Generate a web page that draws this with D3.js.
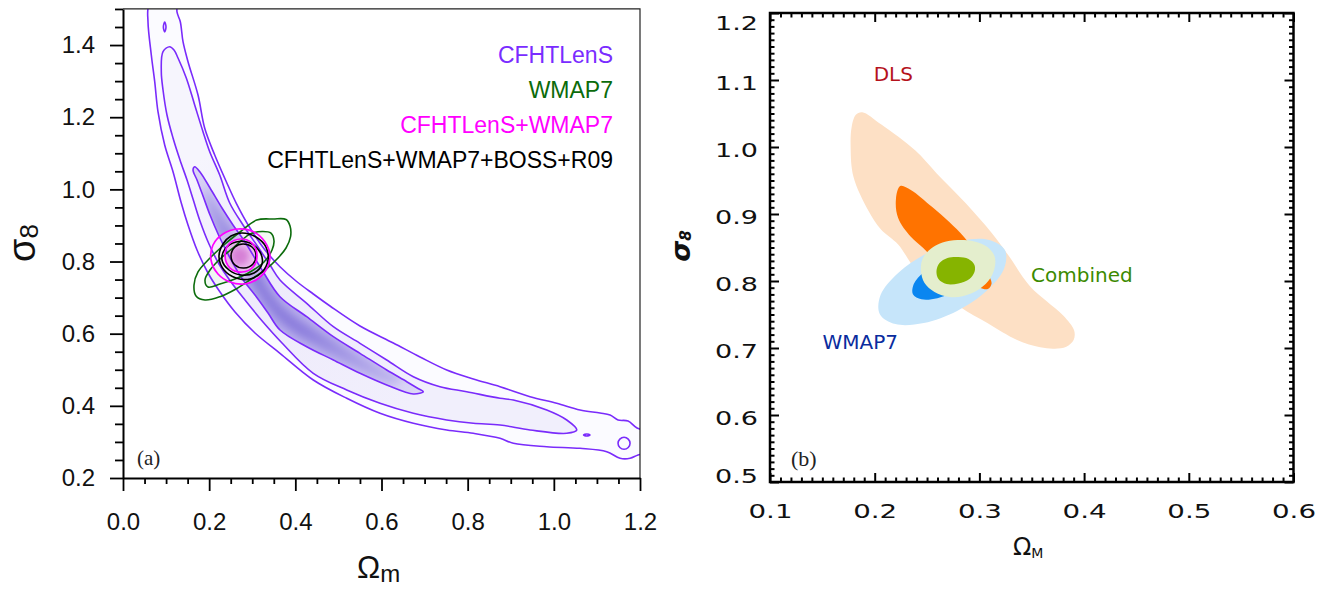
<!DOCTYPE html>
<html><head><meta charset="utf-8">
<script src="https://cdn.jsdelivr.net/npm/d3@7"></script>
<style>html,body{margin:0;padding:0;background:#fff;}svg{display:block;}</style>
</head><body>
<svg id="chart" width="1322" height="590"></svg>
<script>
// ================= Panel (a) data =================
const aXTicks = [0.0, 0.2, 0.4, 0.6, 0.8, 1.0, 1.2];
const aYTicks = [0.2, 0.4, 0.6, 0.8, 1.0, 1.2, 1.4];
const aLegend = ["CFHTLenS", "WMAP7", "CFHTLenS+WMAP7", "CFHTLenS+WMAP7+BOSS+R09"];

const cfhtOuter = [[0.0975,1.5525],[0.1253,1.5525],[0.1253,1.4916],[0.1330,1.4647],[0.1393,1.4093],[0.1509,1.3538],[0.1741,1.2615],[0.1897,1.1692],[0.2129,1.0952],[0.2398,1.0212],[0.2630,0.9614],[0.2948,0.8929],[0.3296,0.8319],[0.3644,0.7856],[0.4016,0.7460],[0.4417,0.7100],[0.4805,0.6767],[0.5501,0.6213],[0.6274,0.5742],[0.6894,0.5354],[0.7514,0.4993],[0.8131,0.4744],[0.8751,0.4531],[0.9448,0.4253],[1.0067,0.4070],[1.0608,0.3885],[1.1072,0.3802],[1.1305,0.3746],[1.1490,0.3608],[1.1722,0.3580],[1.1931,0.3386],[1.2349,0.3220],[1.2349,0.2776],[1.1955,0.2637],[1.1769,0.2546],[1.1537,0.2546],[1.1228,0.2729],[1.0608,0.2823],[0.9835,0.2868],[0.9060,0.2962],[0.8751,0.3100],[0.8131,0.3239],[0.7514,0.3330],[0.6739,0.3516],[0.5966,0.3793],[0.5193,0.4209],[0.4417,0.4716],[0.3644,0.5456],[0.3064,0.6019],[0.2600,0.6601],[0.2252,0.7155],[0.1973,0.7682],[0.1718,0.8319],[0.1509,0.9012],[0.1346,0.9650],[0.1161,1.0489],[0.0968,1.1229],[0.0812,1.2152],[0.0736,1.2984],[0.0657,1.3724],[0.0580,1.4647],[0.0604,1.5110]];
const cfhtMiddle = [[0.1084,1.3954],[0.1184,1.3863],[0.1277,1.3641],[0.1469,1.3087],[0.1664,1.2339],[0.1857,1.1598],[0.2013,1.1044],[0.2245,1.0398],[0.2477,0.9622],[0.2786,0.9012],[0.3134,0.8402],[0.3412,0.7904],[0.3644,0.7488],[0.4264,0.6842],[0.4882,0.6193],[0.5501,0.5733],[0.6121,0.5271],[0.6739,0.4808],[0.7358,0.4531],[0.7978,0.4392],[0.8751,0.4209],[0.9060,0.4162],[0.9835,0.3885],[1.0300,0.3608],[1.0532,0.3330],[1.0300,0.3239],[0.9448,0.3330],[0.8751,0.3469],[0.8131,0.3516],[0.7514,0.3608],[0.6739,0.3793],[0.5966,0.4070],[0.5193,0.4439],[0.4417,0.4902],[0.3691,0.5742],[0.3250,0.6324],[0.2832,0.6933],[0.2507,0.7432],[0.2228,0.7931],[0.1996,0.8485],[0.1787,0.9123],[0.1625,0.9733],[0.1486,1.0259],[0.1323,1.0814],[0.1161,1.1424],[0.1021,1.2061],[0.0929,1.2754],[0.0889,1.3261],[0.0929,1.3815]];
const cfhtInner = [[0.1664,1.0628],[0.1787,1.0481],[0.2020,1.0038],[0.2298,0.9483],[0.2553,0.9012],[0.2832,0.8541],[0.3227,0.7765],[0.3644,0.7025],[0.4264,0.6471],[0.4882,0.5916],[0.5501,0.5456],[0.6121,0.4993],[0.6586,0.4669],[0.6848,0.4481],[0.6971,0.4392],[0.6739,0.4328],[0.6121,0.4578],[0.5501,0.4902],[0.4882,0.5271],[0.4264,0.5639],[0.3644,0.6102],[0.3366,0.6573],[0.3064,0.7072],[0.2739,0.7571],[0.2461,0.8153],[0.2228,0.8707],[0.2020,0.9289],[0.1857,0.9816],[0.1718,1.0259],[0.1625,1.0537]];
const cfhtCore = [[0.1903,1.0038],[0.2437,0.9095],[0.2948,0.8098],[0.3644,0.6823],[0.4875,0.5825],[0.6105,0.4966],[0.6430,0.4772],[0.6314,0.4605],[0.6105,0.4661],[0.4875,0.5381],[0.3644,0.6324],[0.2948,0.7488],[0.2437,0.8319],[0.1950,0.9428]];
const cfhtIslands = [
  [[0.0968,1.4639],[0.0998,1.4500],[0.0968,1.4362],[0.0937,1.4500]],
  [[1.0689,0.3192],[1.0763,0.3220],[1.0840,0.3192],[1.0763,0.3164]],
  [[1.1630,0.3128],[1.1727,0.3078],[1.1769,0.2962],[1.1727,0.2845],[1.1630,0.2795],[1.1532,0.2845],[1.1490,0.2962],[1.1532,0.3078]]
];
const wmapOuterA = [[0.3104,0.9151],[0.3489,0.9178],[0.3784,0.9165],[0.3877,0.8984],[0.3888,0.8680],[0.3784,0.8375],[0.3598,0.8098],[0.3296,0.7765],[0.2948,0.7488],[0.2623,0.7238],[0.2252,0.7025],[0.1903,0.6933],[0.1695,0.7044],[0.1648,0.7349],[0.1741,0.7710],[0.2020,0.8098],[0.2368,0.8486],[0.2716,0.8818]];
const wmapInnerA = [[0.2948,0.8763],[0.3227,0.8832],[0.3435,0.8790],[0.3505,0.8569],[0.3459,0.8319],[0.3273,0.7987],[0.2948,0.7709],[0.2600,0.7515],[0.2252,0.7377],[0.1973,0.7294],[0.1903,0.7488],[0.2020,0.7765],[0.2252,0.8070],[0.2553,0.8375],[0.2762,0.8596]];
const cwOuter = [[0.2669,0.8901],[0.3041,0.8818],[0.3296,0.8541],[0.3412,0.8153],[0.3319,0.7765],[0.3087,0.7488],[0.2809,0.7377],[0.2484,0.7432],[0.2205,0.7654],[0.2043,0.8042],[0.2089,0.8458],[0.2321,0.8763]];
const cwInner = [[0.2739,0.8624],[0.2994,0.8513],[0.3110,0.8181],[0.3018,0.7848],[0.2762,0.7709],[0.2484,0.7820],[0.2368,0.8153],[0.2461,0.8486]];
const cwCore = [[0.2716,0.8402],[0.2878,0.8319],[0.2925,0.8125],[0.2832,0.7931],[0.2669,0.7903],[0.2530,0.8014],[0.2507,0.8236],[0.2600,0.8375]];
const allOuter = [[0.2762,0.8790],[0.3087,0.8680],[0.3319,0.8402],[0.3366,0.8042],[0.3227,0.7709],[0.2948,0.7515],[0.2623,0.7543],[0.2345,0.7765],[0.2228,0.8125],[0.2321,0.8486],[0.2507,0.8707]];
const allMid = [[0.2623,0.8541],[0.2948,0.8513],[0.3180,0.8264],[0.3227,0.7931],[0.3041,0.7682],[0.2739,0.7626],[0.2461,0.7765],[0.2298,0.8042],[0.2368,0.8347]];
const allInner = [[0.2786,0.8486],[0.2994,0.8402],[0.3087,0.8181],[0.3018,0.7931],[0.2809,0.7820],[0.2600,0.7903],[0.2507,0.8153],[0.2600,0.8402]];

// ================= Panel (b) data =================
const bXTicks = [0.1, 0.2, 0.3, 0.4, 0.5, 0.6];
const bYTicks = [0.5, 0.6, 0.7, 0.8, 0.9, 1.0, 1.1, 1.2];
const bLabelText = ["DLS", "Combined", "WMAP7"];
const bLabelX = [0.199, 0.3493, 0.1502];
const bLabelY = [1.099, 0.7985, 0.6985];

const dlsOuter = [[0.188,1.052],[0.206,1.034],[0.2386,0.995],[0.259,0.961],[0.287,0.916],[0.3116,0.872],[0.3278,0.838],[0.3479,0.793],[0.364,0.770],[0.3803,0.748],[0.3905,0.726],[0.390,0.712],[0.383,0.702],[0.372,0.699],[0.358,0.701],[0.336,0.712],[0.308,0.737],[0.282,0.761],[0.262,0.785],[0.240,0.815],[0.2224,0.8546],[0.206,0.877],[0.194,0.905],[0.1797,0.9557],[0.177,1.0],[0.178,1.03],[0.182,1.048]];
const dlsInner = [[0.2244,0.9418],[0.2345,0.936],[0.2547,0.9107],[0.271,0.8884],[0.2851,0.866],[0.298,0.840],[0.308,0.812],[0.3116,0.7958],[0.308,0.788],[0.300,0.790],[0.285,0.800],[0.265,0.820],[0.2466,0.849],[0.2345,0.866],[0.2224,0.894],[0.2203,0.9224]];
const wmapOuterB = [[0.3244,0.8461],[0.3235,0.8181],[0.3067,0.7849],[0.2787,0.7552],[0.2469,0.7372],[0.2198,0.7357],[0.2048,0.7509],[0.2056,0.7790],[0.2224,0.8121],[0.2504,0.8418],[0.2822,0.8599],[0.3094,0.8613]];
const wmapInnerB = [[0.3045,0.8346],[0.3037,0.8196],[0.2939,0.8015],[0.2778,0.7849],[0.2599,0.7743],[0.2447,0.7727],[0.2365,0.7803],[0.2373,0.7954],[0.2471,0.8134],[0.2631,0.8300],[0.2811,0.8406],[0.2963,0.8422]];
const combOuterB = [[0.2791,0.8612],[0.2953,0.8590],[0.3077,0.8507],[0.3144,0.8373],[0.3149,0.8224],[0.3106,0.8045],[0.3001,0.7881],[0.2848,0.7776],[0.2714,0.7761],[0.2571,0.7836],[0.2476,0.7970],[0.2442,0.8149],[0.2457,0.8328],[0.2533,0.8478],[0.2648,0.8575]];
const combInnerB = [[0.2800,0.8358],[0.2896,0.8328],[0.2953,0.8239],[0.2953,0.8134],[0.2905,0.8030],[0.2800,0.7963],[0.2686,0.7955],[0.2609,0.8030],[0.2590,0.8149],[0.2619,0.8269],[0.2695,0.8343]];

// ================= Drawing =================
const svg = d3.select("#chart");
const defs = svg.append("defs");
const SANS = "'Liberation Sans', Arial, Helvetica, sans-serif";
const SERIF = "'Liberation Serif', 'Times New Roman', serif";
const GEO = "'DejaVu Sans', Verdana, sans-serif";

// ---------- Panel (a) ----------
const ax = d3.scaleLinear().domain([0, 1.2]).range([123, 640]);
const ay = d3.scaleLinear().domain([0.2, 1.5]).range([478, 8.96]);
const lineA = d3.line().x(d => ax(d[0])).y(d => ay(d[1])).curve(d3.curveCatmullRomClosed.alpha(0.5));

defs.append("clipPath").attr("id", "clipA").append("rect")
  .attr("x", ax(0)).attr("y", ay(1.5)).attr("width", ax(1.2) - ax(0)).attr("height", ay(0.2) - ay(1.5));
defs.append("clipPath").attr("id", "clipInner").append("path").attr("d", lineA(cfhtInner));
const blur = defs.append("filter").attr("id", "blur").attr("x", "-30%").attr("y", "-30%").attr("width", "160%").attr("height", "160%");
blur.append("feGaussianBlur").attr("stdDeviation", 5);
const blurS = defs.append("filter").attr("id", "blurS").attr("x", "-50%").attr("y", "-50%").attr("width", "200%").attr("height", "200%");
blurS.append("feGaussianBlur").attr("stdDeviation", 3);

function grad(id, stops) {
  const g = defs.append("linearGradient").attr("id", id).attr("gradientUnits", "userSpaceOnUse")
    .attr("x1", ax(0.16)).attr("y1", ay(1.06)).attr("x2", ax(0.70)).attr("y2", ay(0.44));
  stops.forEach(s => g.append("stop").attr("offset", s[0]).attr("stop-color", s[1]));
}
grad("gMid", [[0, "#f6f5fd"], [0.4, "#eeebfb"], [1, "#f1effc"]]);
grad("gInner", [[0, "#dcd6f5"], [0.4, "#b2a7ea"], [0.7, "#c1b8ee"], [1, "#ddd8f6"]]);
grad("gCore", [[0, "#c4bbef"], [0.35, "#8374da"], [0.6, "#8c7edd"], [1, "#c6bef0"]]);

const gA = svg.append("g").attr("clip-path", "url(#clipA)");
gA.append("path").attr("d", lineA(cfhtOuter)).attr("fill", "#fbfbff");
gA.append("path").attr("d", lineA(cfhtMiddle)).attr("fill", "url(#gMid)");
gA.append("path").attr("d", lineA(cfhtInner)).attr("fill", "url(#gInner)");
gA.append("g").attr("clip-path", "url(#clipInner)")
  .append("path").attr("d", lineA(cfhtCore)).attr("fill", "url(#gCore)").attr("filter", "url(#blur)");
gA.append("path").attr("d", lineA(wmapInnerA)).attr("fill", "#d9f2d9").attr("opacity", 0.35);
gA.append("path").attr("d", lineA(cwOuter)).attr("fill", "#ffe4ff").attr("opacity", 0.45);
gA.append("path").attr("d", lineA(cwInner)).attr("fill", "#eebcee").attr("opacity", 0.9);
gA.append("path").attr("d", lineA(cwCore)).attr("fill", "#d680d6").attr("filter", "url(#blurS)");

const purple = "#7a2bfb";
[cfhtOuter, cfhtMiddle, cfhtInner].concat(cfhtIslands).forEach(c =>
  gA.append("path").attr("d", lineA(c)).attr("fill", "none").attr("stroke", purple).attr("stroke-width", 1.6));
[wmapOuterA, wmapInnerA].forEach(c =>
  gA.append("path").attr("d", lineA(c)).attr("fill", "none").attr("stroke", "#0c6c0c").attr("stroke-width", 1.6));
[allOuter, allMid, allInner].forEach(c =>
  gA.append("path").attr("d", lineA(c)).attr("fill", "none").attr("stroke", "#000").attr("stroke-width", 1.6));
[cwOuter, cwInner].forEach(c =>
  gA.append("path").attr("d", lineA(c)).attr("fill", "none").attr("stroke", "#ff00ff").attr("stroke-width", 1.7));

svg.append("path").attr("d", `M${ax(0)},${ay(1.5)}H${ax(1.2)}V${ay(0.2)}`)
  .attr("fill", "none").attr("stroke", "#222").attr("stroke-width", 1.2);

function styleAxis(g, fs, fam) {
  g.selectAll("path.domain").attr("stroke", "#000").attr("stroke-width", 2);
  g.selectAll(".tick line").attr("stroke", "#000").attr("stroke-width", 1.8);
  g.selectAll("text").attr("font-family", fam).attr("font-size", fs).attr("fill", "#111");
}
const aXMinor = d3.range(0, 1.2001, 0.05).filter(v => Math.abs(v * 5 - Math.round(v * 5)) > 1e-6);
const aYMinor = d3.range(0.2, 1.5001, 0.05).filter(v => Math.abs(v * 5 - Math.round(v * 5)) > 1e-6);

const gxA = svg.append("g").attr("transform", `translate(0,${ay(0.2)})`)
  .call(d3.axisBottom(ax).tickValues(aXTicks).tickSize(13).tickSizeOuter(0).tickPadding(22).tickFormat(d3.format(".1f")));
styleAxis(gxA, 24, SANS);
const gxAm = svg.append("g").attr("transform", `translate(0,${ay(0.2)})`)
  .call(d3.axisBottom(ax).tickValues(aXMinor).tickSize(6).tickSizeOuter(0).tickFormat(""));
gxAm.select("path.domain").remove(); styleAxis(gxAm, 0, SANS);

const gyA = svg.append("g").attr("transform", `translate(${ax(0)},0)`)
  .call(d3.axisLeft(ay).tickValues(aYTicks).tickSize(13).tickSizeOuter(0).tickPadding(15).tickFormat(d3.format(".1f")));
styleAxis(gyA, 24, SANS);
const gyAm = svg.append("g").attr("transform", `translate(${ax(0)},0)`)
  .call(d3.axisLeft(ay).tickValues(aYMinor).tickSize(8).tickSizeOuter(0).tickFormat(""));
gyAm.select("path.domain").remove(); styleAxis(gyAm, 0, SANS);

const legColors = ["#7a2cff", "#0b6b0b", "#ff00ff", "#000000"];
aLegend.forEach((t, i) => {
  svg.append("text").attr("x", 613).attr("y", 62.5 + i * 35).attr("text-anchor", "end")
    .attr("font-family", SANS).attr("font-size", 23).attr("fill", legColors[i]).text(t);
});
svg.append("text").attr("x", 137).attr("y", 465).attr("font-family", SERIF).attr("font-size", 21).attr("fill", "#222").text("(a)");

const tA = svg.append("text").attr("x", 357).attr("y", 578).attr("font-family", SANS).attr("font-size", 31).attr("fill", "#111").text("Ω");
tA.append("tspan").attr("font-size", 24).attr("dy", 4).text("m");
const sA = svg.append("text").attr("transform", "translate(35,243) rotate(-90)").attr("text-anchor", "middle")
  .attr("font-family", SANS).attr("font-size", 38).attr("fill", "#111").text("σ");
sA.append("tspan").attr("font-size", 26).attr("dy", 3).text("8");

// ---------- Panel (b) ----------
const bx = d3.scaleLinear().domain([0.1, 0.6]).range([770, 1293.5]);
const by = d3.scaleLinear().domain([0.5, 1.2]).range([482, 13]);
const lineB = d3.line().x(d => bx(d[0])).y(d => by(d[1])).curve(d3.curveCatmullRomClosed.alpha(0.5));

defs.append("clipPath").attr("id", "clipB").append("rect")
  .attr("x", bx(0.1)).attr("y", by(1.2)).attr("width", bx(0.6) - bx(0.1)).attr("height", by(0.5) - by(1.2));
const gB = svg.append("g").attr("clip-path", "url(#clipB)");
gB.append("path").attr("d", lineB(dlsOuter)).attr("fill", "#fde0c5");
gB.append("path").attr("d", lineB(wmapOuterB)).attr("fill", "#c6e5fa");
gB.append("path").attr("d", lineB(dlsInner)).attr("fill", "#ff7300");
gB.append("path").attr("d", lineB(wmapInnerB)).attr("fill", "#0a86f0");
gB.append("path").attr("d", lineB(combOuterB)).attr("fill", "#e4eecd");
gB.append("path").attr("d", lineB(combInnerB)).attr("fill", "#86b400");

const bXMinor = d3.range(0.1, 0.6001, 0.01).filter(v => Math.abs(v * 10 - Math.round(v * 10)) > 1e-6);
const bYMinor = d3.range(0.5, 1.2001, 0.01).filter(v => Math.abs(v * 10 - Math.round(v * 10)) > 1e-6);

function tickAxis(axisFn, scale, vals, size, transform) {
  const a = axisFn(scale).tickValues(vals).tickSize(size).tickSizeOuter(0).tickFormat("");
  const g = svg.append("g").attr("transform", transform).call(a);
  g.select("path.domain").remove();
  g.selectAll(".tick line").attr("stroke", "#000").attr("stroke-width", 2);
  return g;
}
tickAxis(d3.axisBottom, bx, bXMinor, -4.5, `translate(0,${by(0.5)})`);
tickAxis(d3.axisTop, bx, bXMinor, -4.5, `translate(0,${by(1.2)})`);
tickAxis(d3.axisLeft, by, bYMinor, -4.5, `translate(${bx(0.1)},0)`);
tickAxis(d3.axisRight, by, bYMinor, -4.5, `translate(${bx(0.6)},0)`);
tickAxis(d3.axisTop, bx, bXTicks, -9, `translate(0,${by(1.2)})`);
tickAxis(d3.axisRight, by, bYTicks, -9, `translate(${bx(0.6)},0)`);

const gxB = svg.append("g").attr("transform", `translate(0,${by(0.5)})`)
  .call(d3.axisBottom(bx).tickValues(bXTicks).tickSize(-9).tickSizeOuter(0).tickPadding(22).tickFormat(d3.format(".1f")));
gxB.select("path.domain").remove();
gxB.selectAll(".tick line").attr("stroke", "#000").attr("stroke-width", 2);
gxB.selectAll("text").attr("font-family", GEO).attr("font-size", 20).attr("fill", "#111")
  .attr("textLength", 44).attr("lengthAdjust", "spacingAndGlyphs");

const gyB = svg.append("g").attr("transform", `translate(${bx(0.1)},0)`)
  .call(d3.axisLeft(by).tickValues(bYTicks).tickSize(-9).tickSizeOuter(0).tickPadding(12).tickFormat(d3.format(".1f")));
gyB.select("path.domain").remove();
gyB.selectAll(".tick line").attr("stroke", "#000").attr("stroke-width", 2);
gyB.selectAll("text").attr("font-family", GEO).attr("font-size", 20).attr("fill", "#111")
  .attr("textLength", 43).attr("lengthAdjust", "spacingAndGlyphs")
  .attr("dy", d => d === 1.2 ? "0.8em" : d === 0.5 ? "0em" : "0.45em");

svg.append("rect").attr("x", bx(0.1)).attr("y", by(1.2)).attr("width", bx(0.6) - bx(0.1)).attr("height", by(0.5) - by(1.2))
  .attr("fill", "none").attr("stroke", "#000").attr("stroke-width", 2.5);

const bLabelColors = ["#b5121c", "#3c8a00", "#0a2c9e"];
bLabelText.forEach((t, i) => {
  svg.append("text").attr("x", bx(bLabelX[i])).attr("y", by(bLabelY[i]))
    .attr("font-family", GEO).attr("font-size", 20).attr("fill", bLabelColors[i]).text(t);
});
svg.append("text").attr("x", 791).attr("y", 466).attr("font-family", SERIF).attr("font-size", 22).attr("fill", "#222").text("(b)");

const tB = svg.append("text").attr("x", 1013).attr("y", 554.5).attr("font-family", GEO).attr("font-size", 24).attr("fill", "#111").text("Ω");
tB.append("tspan").attr("font-size", 14).attr("dy", 3.5).text("M");
const sB = svg.append("text").attr("transform", "translate(690,246) rotate(-90)").attr("text-anchor", "middle")
  .attr("font-family", GEO).attr("font-style", "italic").attr("font-weight", "bold").attr("font-size", 27).attr("fill", "#111").text("σ");
sB.append("tspan").attr("font-size", 15).attr("dy", 1).text("8");
</script>
</body></html>
